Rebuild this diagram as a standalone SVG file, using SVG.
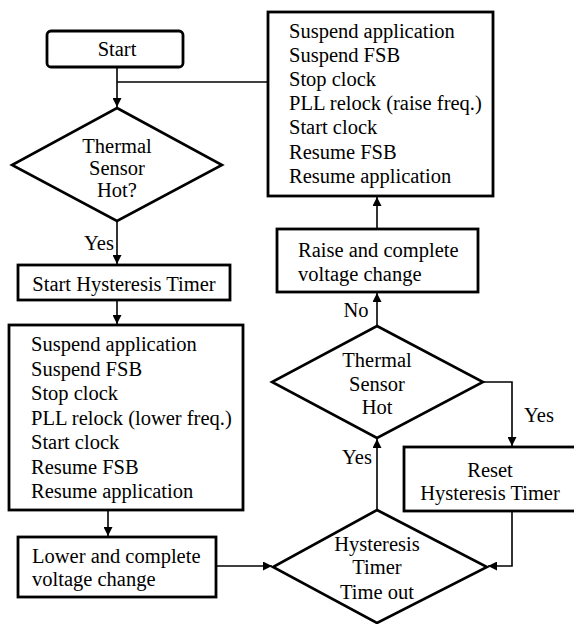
<svg xmlns="http://www.w3.org/2000/svg" width="574" height="624" viewBox="0 0 574 624">
<defs>
<marker id="ah" viewBox="0 0 10 10" refX="10" refY="5" markerWidth="10" markerHeight="9" markerUnits="userSpaceOnUse" orient="auto">
<path d="M0,0 L10,5 L0,10 Z" fill="#000"/>
</marker>
</defs>
<style>
.box{fill:#fff;stroke:#000;stroke-width:2.8}
.dia{fill:#fff;stroke:#000;stroke-width:2.6}
.con{fill:none;stroke:#000;stroke-width:1.6}
.arr{marker-end:url(#ah)}
text{font-family:"Liberation Serif","Times New Roman",serif;font-size:20.5px;fill:#000}
.c{text-anchor:middle}
</style>
<rect width="574" height="624" fill="#fff"/>
<g id="connectors">
<path class="con arr" d="M117,67 L117,107"/>
<path class="con" d="M268,82 L117,82"/>
<path class="con arr" d="M117,221 L117,264"/>
<path class="con arr" d="M117,300 L117,324"/>
<path class="con arr" d="M108,510 L108,536"/>
<path class="con arr" d="M216,566 L272,566"/>
<path class="con arr" d="M377,510 L377,439"/>
<path class="con arr" d="M377,325 L377,293"/>
<path class="con arr" d="M377,229 L377,197"/>
<path class="con arr" d="M483,382 L512,382 L512,446"/>
<path class="con arr" d="M512,511 L512,566 L488,566"/>
<text x="99" y="250" class="c">Yes</text>
<text x="356" y="317" class="c">No</text>
<text x="539" y="422" class="c">Yes</text>
<text x="357" y="464" class="c">Yes</text>
</g>
<g id="start">
<rect class="box" x="47" y="31" width="136" height="36" rx="4"/>
<text x="117" y="56" class="c">Start</text>
</g>
<g id="sensor1">
<polygon class="dia" points="117,108 222,165 117,221 12,165"/>
<text x="117" y="153" class="c">Thermal</text>
<text x="117" y="175" class="c">Sensor</text>
<text x="117" y="197" class="c">Hot?</text>
</g>
<g id="startTimer">
<rect class="box" x="18" y="265" width="212" height="35"/>
<text x="124" y="291" class="c">Start Hysteresis Timer</text>
</g>
<g id="lowerSeq">
<rect class="box" x="9" y="325" width="234" height="185"/>
<text x="31" y="351">Suspend application</text>
<text x="31" y="376">Suspend FSB</text>
<text x="31" y="400">Stop clock</text>
<text x="31" y="425">PLL relock (lower freq.)</text>
<text x="31" y="449">Start clock</text>
<text x="31" y="474">Resume FSB</text>
<text x="31" y="498">Resume application</text>
</g>
<g id="lowerVolt">
<rect class="box" x="18" y="537" width="198" height="60"/>
<text x="32" y="563">Lower and complete</text>
<text x="32" y="586">voltage change</text>
</g>
<g id="timeout">
<polygon class="dia" points="377,510 487,567 377,623 273,567"/>
<text x="377" y="551" class="c">Hysteresis</text>
<text x="377" y="574" class="c">Timer</text>
<text x="377" y="599" class="c">Time out</text>
</g>
<g id="sensor2">
<polygon class="dia" points="377,326 483,382 377,438 272,382"/>
<text x="377" y="367" class="c">Thermal</text>
<text x="377" y="391" class="c">Sensor</text>
<text x="377" y="414" class="c">Hot</text>
</g>
<g id="resetTimer">
<rect class="box" x="404" y="447" width="175" height="64"/>
<text x="490" y="477" class="c">Reset</text>
<text x="490" y="500" class="c">Hysteresis Timer</text>
</g>
<g id="raiseVolt">
<rect class="box" x="277" y="229" width="201" height="63"/>
<text x="298" y="257">Raise and complete</text>
<text x="298" y="281">voltage change</text>
</g>
<g id="raiseSeq">
<rect class="box" x="268" y="12" width="225" height="184"/>
<text x="289" y="38">Suspend application</text>
<text x="289" y="62">Suspend FSB</text>
<text x="289" y="86">Stop clock</text>
<text x="289" y="110">PLL relock (raise freq.)</text>
<text x="289" y="134">Start clock</text>
<text x="289" y="159">Resume FSB</text>
<text x="289" y="183">Resume application</text>
</g>
</svg>
